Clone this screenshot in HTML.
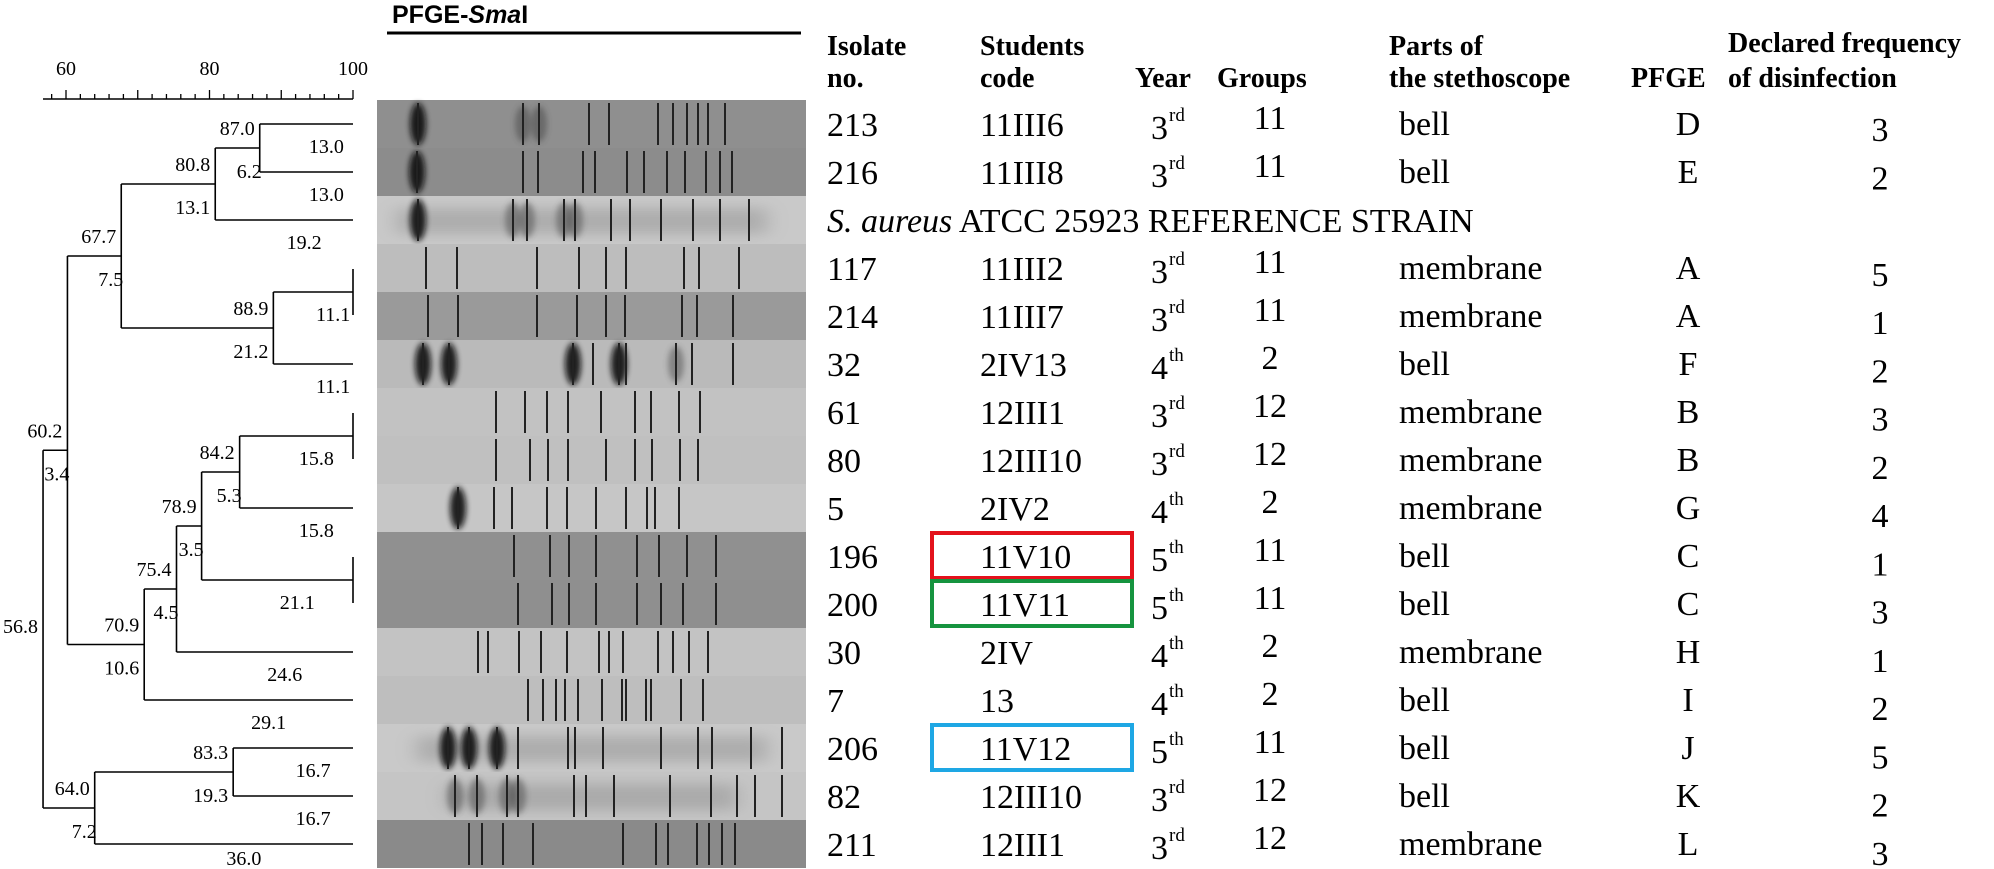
<!DOCTYPE html>
<html><head><meta charset="utf-8"><style>
html,body{margin:0;padding:0;background:#fff;}
svg{display:block;}
.ser{font-family:"Liberation Serif",serif;}
.sans{font-family:"Liberation Sans",sans-serif;}
</style></head><body>
<svg id="fig" width="1994" height="869" viewBox="0 0 1994 869" xmlns="http://www.w3.org/2000/svg">
<g id="dendro"></g>
<g id="gel"></g>
<g id="table"></g>
</svg>
<script>
// ---------- data ----------
const axisTicks = [60, 80, 100];
const leafCount = 16;
const treeIds = ['n0','n1','p1','n2','n3','p2','n4','p3','n5','n6','n7','n8','n9','n10','root'];
const treeA   = ['L0','n0','L3','p1','n1','L6','p2','L9','n4','n5','n6','n3','L13','n9','n8'];
const treeB   = ['L1','L2','L4','L5','n2','L7','L8','L10','p3','L11','L12','n7','L14','L15','n10'];
const treeSim  = [87.0,80.8,100,88.9,67.7,100,84.2,100,78.9,75.4,70.9,60.2,83.3,64.0,56.8];
const treeDist = ['6.2','13.1','','21.2','7.5','','5.3','','3.5','4.5','10.6','3.4','19.3','7.2',''];
const termIds    = ['L0','L1','L2','p1','L5','p2','L8','p3','L11','L12','L13','L14','L15'];
const termLabels = ['13.0','13.0','19.2','11.1','11.1','15.8','15.8','21.1','24.6','29.1','16.7','16.7','36.0'];

const bands = [
 [41,146,162,212,232,281,296,310,321,331,348],
 [40,146,161,206,218,250,267,290,308,329,343,355],
 [41,136,150,187,198,234,253,284,316,343,372],
 [49,80,160,202,229,249,307,322,362],
 [51,81,160,200,229,248,305,320,356],
 [46,72,196,216,242,249,299,315,356],
 [119,148,170,191,224,258,274,302,323],
 [119,153,171,191,229,258,275,303,321],
 [81,117,135,170,190,219,249,270,278,302],
 [137,173,192,219,260,282,310,339],
 [141,175,192,219,260,284,306,339],
 [101,111,142,164,190,222,232,246,281,296,312,331],
 [151,166,179,188,201,225,245,249,269,274,304,326],
 [71,92,120,141,191,198,226,284,321,335,374,405],
 [78,100,130,141,197,209,237,293,334,360,378,405],
 [92,105,126,156,246,279,291,320,332,345,358]
];
const blobs = [[41],[40],[41],[],[],[46,72,196,242],[],[],[81],[],[],[],[],[71,92,120],[],[]];
const smudges = [[146,162],[],[136,150,187,198],[],[],[299],[],[],[],[],[],[],[],[],[78,100,130,141],[]];
const laneShade = ['#8f8f8f','#8c8c8c','#c9c9c9','#bdbdbd','#9a9a9a','#bababa','#c2c2c2','#c0c0c0','#c6c6c6','#909090','#8f8f8f','#c3c3c3','#bebebe','#c9c9c9','#c5c5c5','#8a8a8a'];
const smear = [[],[],[20,390],[],[],[],[],[],[],[],[],[],[],[40,390],[70,360],[]];

const isolates = ['213','216','','117','214','32','61','80','5','196','200','30','7','206','82','211'];
const codes    = ['11III6','11III8','','11III2','11III7','2IV13','12III1','12III10','2IV2','11V10','11V11','2IV','13','11V12','12III10','12III1'];
const years    = ['3','3','','3','3','4','3','3','4','5','5','4','4','5','3','3'];
const yearSup  = ['rd','rd','','rd','rd','th','rd','rd','th','th','th','th','th','th','rd','rd'];
const groups   = ['11','11','','11','11','2','12','12','2','11','11','2','2','11','12','12'];
const parts    = ['bell','bell','','membrane','membrane','bell','membrane','membrane','membrane','bell','bell','membrane','bell','bell','bell','membrane'];
const pfge     = ['D','E','','A','A','F','B','B','G','C','C','H','I','J','K','L'];
const freq     = ['3','2','','5','1','2','3','2','4','1','3','1','2','5','2','3'];
const boxRows  = [9,10,13];
const boxColors= ['#e3121c','#16943f','#1ea7e4'];

const NS='http://www.w3.org/2000/svg';
function mk(tag, parent, attrs){const e=document.createElementNS(NS,tag);for(const k in attrs)e.setAttribute(k,attrs[k]);parent.appendChild(e);return e;}
const sx = s => 66 + (s-60)*(353-66)/40;
const rowY = i => 124 + 48*i;

// ---------- dendrogram ----------
const D=document.getElementById('dendro');
let ax=mk('line',D,{x1:43,y1:99,x2:353,y2:99,stroke:'#000','stroke-width':1.5});


for(let v=58; v<=100; v+=2){
  const big = v%10===0;
  const t=mk('line',D,{x1:sx(v),x2:sx(v),y1:big?90:94,y2:99,stroke:'#000','stroke-width':1.3});
  
  
}
axisTicks.forEach(v=>{
  const t=mk('text',D,{x:sx(v),y:75,'text-anchor':'middle','font-size':20,class:'ser'});
  t.textContent=v;
  
  
});
const pos={};
for(let i=0;i<leafCount;i++) pos['L'+i]={x:353,y:rowY(i)};
treeIds.forEach((id,k)=>{
  const a=pos[treeA[k]], b=pos[treeB[k]];
  const x=sx(treeSim[k]);
  const y=(a.y+b.y)/2;
  pos[id]={x,y};
  const g=mk('g',D,{});
  
  
  if(treeSim[k]>=100){
    mk('line',g,{x1:x,x2:x,y1:a.y+1,y2:b.y-1,stroke:'#000','stroke-width':1.6});
    return;
  }
  mk('line',g,{x1:x,x2:x,y1:a.y,y2:b.y,stroke:'#000','stroke-width':1.6});
  mk('line',g,{x1:x,x2:a.x,y1:a.y,y2:a.y,stroke:'#000','stroke-width':1.6});
  mk('line',g,{x1:x,x2:b.x,y1:b.y,y2:b.y,stroke:'#000','stroke-width':1.6});
  if(id==='root'){
    const t=mk('text',g,{x:x-5,y:y+4,'text-anchor':'end','font-size':20,class:'ser'});
    t.textContent=treeSim[k].toFixed(1);
  } else {
    const t=mk('text',g,{x:x-5,y:y-13,'text-anchor':'end','font-size':20,class:'ser'});
    t.textContent=treeSim[k].toFixed(1);
    const d=mk('text',g,{x:x+(treeDist[k].length<4?2:-5),y:y+30,'text-anchor':'end','font-size':20,class:'ser'});
    d.textContent=treeDist[k];
  }
  [treeA[k],treeB[k]].forEach(c=>{
    const ti=termIds.indexOf(c);
    if(ti<0) return;
    const cy=Math.min(pos[c].y+29, 865);
    const tt=mk('text',D,{x:(x+353)/2+20,y:cy,'text-anchor':'middle','font-size':20,class:'ser'});
    tt.textContent=termLabels[ti];
    
    
  });
});

// ---------- gel ----------
const G=document.getElementById('gel');
const defs=mk('defs',G,{});
const flt=mk('filter',defs,{id:'blur',x:'-50%',y:'-20%',width:'200%',height:'140%'});
mk('feGaussianBlur',flt,{stdDeviation:'3 3'});
const flt2=mk('filter',defs,{id:'blur2',x:'-20%',y:'-50%',width:'140%',height:'200%'});
mk('feGaussianBlur',flt2,{stdDeviation:'10 6'});
const title=mk('text',G,{x:392,y:23,'font-size':25,'font-weight':'bold',class:'sans'});
title.innerHTML='PFGE-<tspan font-style="italic">Sma</tspan>I';


const ul=mk('line',G,{x1:387,x2:801,y1:33,y2:33,stroke:'#000','stroke-width':3});


const GX=377, GW=429;
bands.forEach((lane,i)=>{
  const top=100+48*i;
  const lg=mk('g',G,{});
  
  
  mk('rect',lg,{x:GX,y:top,width:GW,height:48,fill:laneShade[i]});
  if(smear[i].length){
    mk('rect',lg,{x:GX+smear[i][0],y:top+12,width:smear[i][1]-smear[i][0],height:26,fill:'#7a7a7a',opacity:0.35,filter:'url(#blur2)'});
  }
  smudges[i].forEach(b=>{
    mk('ellipse',lg,{cx:GX+b,cy:top+24,rx:8,ry:18,fill:'#333',opacity:0.4,filter:'url(#blur)'});
  });
  blobs[i].forEach(b=>{
    mk('ellipse',lg,{cx:GX+b,cy:top+24,rx:8,ry:21,fill:'#0a0a0a',opacity:0.9,filter:'url(#blur)'});
  });
  lane.forEach(b=>{
    mk('rect',lg,{x:GX+b-1,y:top+3,width:2,height:42,fill:'#222'});
  });
});

// ---------- table ----------
const T=document.getElementById('table');
const heads=[
 [827,['Isolate','no.']],
 [980,['Students','code']],
 [1135,['','Year']],
 [1217,['','Groups']],
 [1389,['Parts of','the stethoscope']],
 [1631,['','PFGE']],
 [1728,['Declared frequency','of disinfection']]
];
heads.forEach(h=>{
  const g=mk('g',T,{});
  
  
  h[1].forEach((s,j)=>{ if(!s) return;
    const t=mk('text',g,{x:h[0],y:(j?87:55)-(h[0]===1728&&!j?3:0),'font-size':28,'font-weight':'bold',class:'ser'});
    t.textContent=s; });
});
for(let i=0;i<16;i++){
  const y=rowY(i)+12;
  const g=mk('g',T,{});
  
  
  if(i===2){
    const t=mk('text',g,{x:827,y:y,'font-size':34,class:'ser'});
    t.innerHTML='<tspan font-style="italic">S. aureus</tspan>  ATCC 25923 REFERENCE STRAIN';
    t.setAttribute('xml:space','preserve');
    continue;
  }
  const add=(x,yy,s,o)=>{const t=mk('text',g,Object.assign({x:x,y:yy,'font-size':34,class:'ser'},o||{}));t.textContent=s;return t;};
  add(827,y,isolates[i]);
  add(980,y,codes[i]);
  add(1151,y+3,years[i]);
  add(1169,y-15,yearSup[i],{'font-size':19});
  add(1270,y-7,groups[i],{'text-anchor':'middle'});
  add(1399,y-1,parts[i]);
  add(1688,y-1,pfge[i],{'text-anchor':'middle'});
  add(1880,y+5+i*0.25,freq[i],{'text-anchor':'middle'});
}
boxRows.forEach((r,k)=>{
  const b=mk('rect',T,{x:932,y:rowY(r)-23,width:200,height:45,fill:'none',stroke:boxColors[k],'stroke-width':4});
  
  
});
</script>
</body></html>
